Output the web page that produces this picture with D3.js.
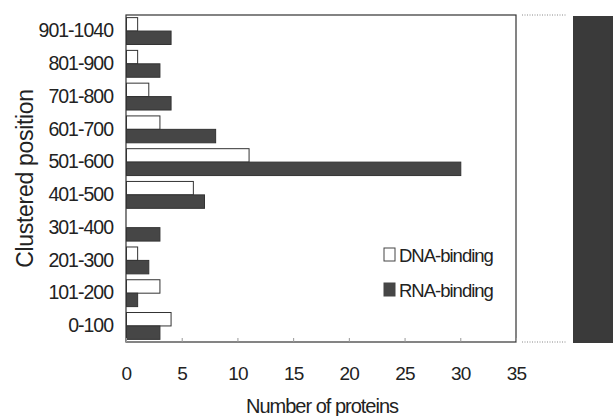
<!DOCTYPE html>
<html>
<head>
<meta charset="utf-8">
<script src="https://cdn.jsdelivr.net/npm/d3@7"></script>
<style>
  body { margin: 0; background: #fff; }
  svg { display: block; font-family: "Liberation Sans", Arial, sans-serif; }
</style>
</head>
<body>
<div id="chart"></div>
<script>
// categories listed top to bottom
const positions = ['901-1040', '801-900', '701-800', '601-700', '501-600',
  '401-500', '301-400', '201-300', '101-200', '0-100'];
const dnaBinding = [1, 1, 2, 3, 11, 6, 0, 1, 3, 4];
const rnaBinding = [4, 3, 4, 8, 30, 7, 3, 2, 1, 3];
const seriesNames = ['DNA-binding', 'RNA-binding'];
const xTicks = [0, 5, 10, 15, 20, 25, 30, 35];

const width = 613, height = 416;
const margin = { top: 15, right: 97, bottom: 74, left: 126 };
const innerW = width - margin.left - margin.right;
const innerH = height - margin.top - margin.bottom;

const fills = { 'DNA-binding': '#ffffff', 'RNA-binding': '#464646' };

const rows = positions.map((p, i) => ({
  pos: p,
  values: [
    { key: seriesNames[0], value: dnaBinding[i] },
    { key: seriesNames[1], value: rnaBinding[i] },
  ],
}));

const svg = d3.select('#chart')
  .append('svg')
  .attr('width', width)
  .attr('height', height);

const g = svg.append('g')
  .attr('transform', `translate(${margin.left},${margin.top})`);

const x = d3.scaleLinear().domain([0, 35]).range([0, innerW]);

const y = d3.scaleBand()
  .domain(positions)
  .range([0, innerH])
  .paddingInner(0.18)
  .paddingOuter(0.08);

const ySub = d3.scaleBand()
  .domain(seriesNames)
  .range([0, y.bandwidth()]);

// Bars
g.selectAll('.row')
  .data(rows)
  .join('g')
  .attr('class', 'row')
  .attr('transform', (d) => `translate(0,${y(d.pos)})`)
  .selectAll('rect')
  .data((d) => d.values.filter((v) => v.value > 0))
  .join('rect')
  .attr('x', x(0) + 0.5)
  .attr('y', (d) => ySub(d.key))
  .attr('width', (d) => x(d.value) - x(0))
  .attr('height', ySub.bandwidth())
  .attr('fill', (d) => fills[d.key])
  .attr('stroke', '#333')
  .attr('stroke-width', 1);

// Frame
g.append('rect')
  .attr('x', 0)
  .attr('y', 0)
  .attr('width', innerW)
  .attr('height', innerH)
  .attr('fill', 'none')
  .attr('stroke', '#333')
  .attr('stroke-width', 1.2);

// X Axis
g.append('g')
  .attr('transform', `translate(0,${innerH})`)
  .call(d3.axisBottom(x).tickValues(xTicks).tickSizeInner(-4).tickSizeOuter(0).tickPadding(25))
  .call((a) => a.select('.domain').remove())
  .call((a) => a.selectAll('.tick line').attr('stroke', '#999'))
  .call((a) => a.selectAll('.tick text')
    .attr('fill', '#222')
    .style('font-size', '19px')
    .style('letter-spacing', '-0.8px'));

// Y Axis (labels only)
g.append('g')
  .call(d3.axisLeft(y).tickSize(0).tickPadding(13))
  .call((a) => a.select('.domain').remove())
  .call((a) => a.selectAll('.tick text')
    .attr('fill', '#222')
    .style('font-size', '19.5px')
    .style('letter-spacing', '-1px'));

// Axis titles
svg.append('text')
  .attr('transform', `translate(33,${margin.top + innerH / 2}) rotate(-90)`)
  .attr('text-anchor', 'middle')
  .attr('fill', '#222')
  .style('font-size', '23px')
  .style('letter-spacing', '-0.3px')
  .text('Clustered position');

svg.append('text')
  .attr('x', 322)
  .attr('y', 413)
  .attr('text-anchor', 'middle')
  .attr('fill', '#222')
  .style('font-size', '20px')
  .style('letter-spacing', '-1px')
  .text('Number of proteins');

// Legend
const legend = svg.append('g').attr('transform', 'translate(384,248)');
seriesNames.forEach((name, i) => {
  const row = legend.append('g').attr('transform', `translate(0,${i * 35})`);
  row.append('rect')
    .attr('width', 11)
    .attr('height', 13)
    .attr('fill', fills[name])
    .attr('stroke', '#444');
  row.append('text')
    .attr('x', 15)
    .attr('y', 14)
    .attr('fill', '#222')
    .style('font-size', '18.5px')
    .style('letter-spacing', '-1px')
    .text(name);
});

// Right-hand panel edge (cropped neighbour figure)
const side = svg.append('g');
[margin.top, margin.top + innerH].forEach((yy) => {
  side.append('line')
    .attr('x1', 522).attr('x2', 567)
    .attr('y1', yy).attr('y2', yy)
    .attr('stroke', '#888')
    .attr('stroke-dasharray', '1,1.5');
});
side.append('rect')
  .attr('x', 573)
  .attr('y', margin.top + 1)
  .attr('width', 40)
  .attr('height', innerH)
  .attr('fill', '#3a3a3a');
</script>
</body>
</html>
